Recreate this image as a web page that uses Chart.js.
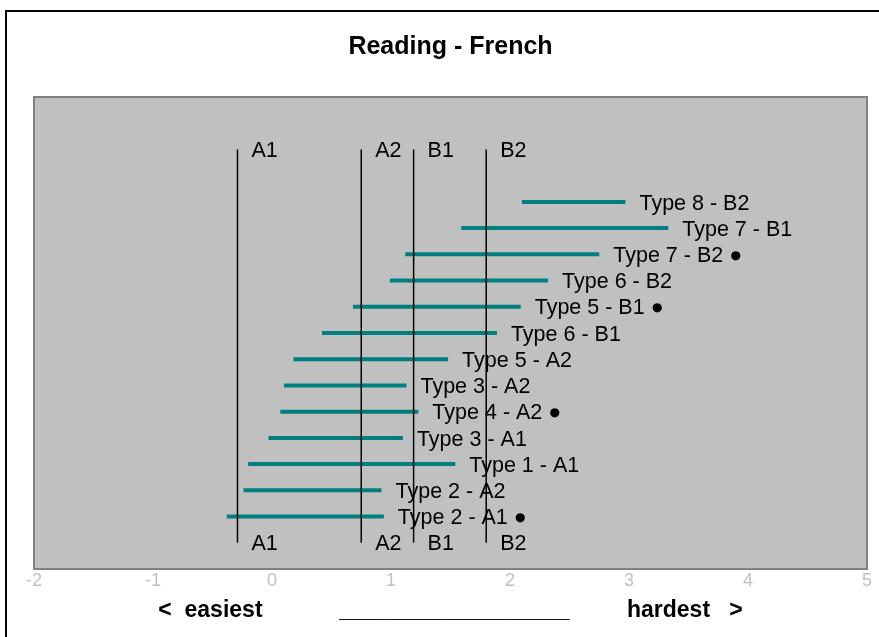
<!DOCTYPE html>
<html>
<head>
<meta charset="utf-8">
<script src="https://cdn.jsdelivr.net/npm/chart.js@4.4.1/dist/chart.umd.min.js"></script>
<style>
  html, body { margin: 0; padding: 0; background: #fff; }
  #wrap { width: 879px; height: 637px; }
</style>
</head>
<body>
<div id="wrap"><canvas id="chart"></canvas></div>
<script>
// rows, top to bottom
const rowLabels = ['Type 8 - B2', 'Type 7 - B1', 'Type 7 - B2 ●', 'Type 6 - B2', 'Type 5 - B1 ●',
    'Type 6 - B1', 'Type 5 - A2', 'Type 3 - A2', 'Type 4 - A2 ●', 'Type 3 - A1',
    'Type 1 - A1', 'Type 2 - A2', 'Type 2 - A1 ●'];
const rowPos = [14, 13, 12, 11, 10, 9, 8, 7, 6, 5, 4, 3, 2];
const rangeLow = [2.10, 1.59, 1.12, 0.99, 0.68, 0.42, 0.18, 0.10, 0.07, -0.03, -0.20, -0.24, -0.38];
const rangeHigh = [2.97, 3.33, 2.75, 2.32, 2.09, 1.89, 1.48, 1.13, 1.23, 1.10, 1.54, 0.92, 0.94];

// CEFR cut points
const levelNames = ['A1', 'A2', 'B1', 'B2'];
const levelCut = [-0.29, 0.75, 1.19, 1.80];
const levelSpan = [1, 16];

const xMin = -2, xMax = 5;
const FONT = '"Liberation Sans", Arial, sans-serif';
const LABEL_SIZE = 21.5;

const datasets = [];
// cut lines first so they sit on top
levelCut.forEach((v, i) => {
    datasets.push({
        kind: 'level', name: levelNames[i],
        data: [{x: v, y: levelSpan[0]}, {x: v, y: levelSpan[1]}],
        borderColor: '#000', borderWidth: 1.5, pointRadius: 0
    });
});
rowLabels.forEach((lab, i) => {
    datasets.push({
        kind: 'range', name: lab,
        data: [{x: rangeLow[i], y: rowPos[i]}, {x: rangeHigh[i], y: rowPos[i]}],
        borderColor: '#008080', borderWidth: 4, borderCapStyle: 'butt', pointRadius: 0
    });
});

const frame = {
    id: 'frame',
    beforeDraw(c) {
        const ctx = c.ctx, a = c.chartArea;
        ctx.save();
        ctx.fillStyle = '#fff';
        ctx.fillRect(0, 0, c.width, c.height);
        ctx.strokeStyle = '#000';
        ctx.lineWidth = 2;
        ctx.strokeRect(6, 11, 1000, 1000);
        ctx.fillStyle = '#c0c0c0';
        ctx.fillRect(a.left, a.top, a.right - a.left, a.bottom - a.top);
        ctx.strokeStyle = '#808080';
        ctx.lineWidth = 2;
        ctx.strokeRect(a.left, a.top, a.right - a.left, a.bottom - a.top);
        ctx.restore();
    },
    beforeDatasetsDraw(c) {
        const ctx = c.ctx;
        ctx.save();
        ctx.fillStyle = '#000';
        ctx.font = LABEL_SIZE + 'px ' + FONT;
        ctx.textAlign = 'left';
        ctx.textBaseline = 'alphabetic';
        const capHalf = LABEL_SIZE * 0.716 / 2;
        c.data.datasets.forEach((ds, i) => {
            const pts = c.getDatasetMeta(i).data;
            ctx.fillText(ds.name, pts[1].x + 14, pts[1].y + capHalf);
            if (ds.kind === 'level') {
                ctx.fillText(ds.name, pts[0].x + 14, pts[0].y + capHalf);
            }
        });
        ctx.restore();
    }
};

new Chart(document.getElementById('chart'), {
    type: 'line',
    data: { datasets },
    plugins: [frame],
    options: {
        responsive: true,
        maintainAspectRatio: false,
        animation: false,
        layout: { padding: { left: 34, right: 12, top: 0, bottom: 0 } },
        plugins: {
            legend: { display: false },
            tooltip: { enabled: false },
            title: {
                display: true,
                text: 'Reading - French',
                color: '#000',
                font: { family: FONT, size: 25, weight: 'bold' },
                padding: { top: 32, bottom: 35 }
            }
        },
        scales: {
            x: {
                type: 'linear', min: xMin, max: xMax,
                grid: { display: false, drawTicks: false },
                border: { display: false },
                ticks: { stepSize: 1, color: '#c0c0c0', padding: 1, font: { family: FONT, size: 18 } },
                title: {
                    display: true,
                    text: '<  easiest            __________________         hardest   >',
                    color: '#000',
                    font: { family: FONT, size: 23, weight: 'bold' },
                    padding: { top: 0, bottom: 13 }
                },
                afterFit(axis) { axis.height = 68; }
            },
            y: { type: 'linear', min: 0, max: 18, display: false }
        }
    }
});
</script>
</body>
</html>
